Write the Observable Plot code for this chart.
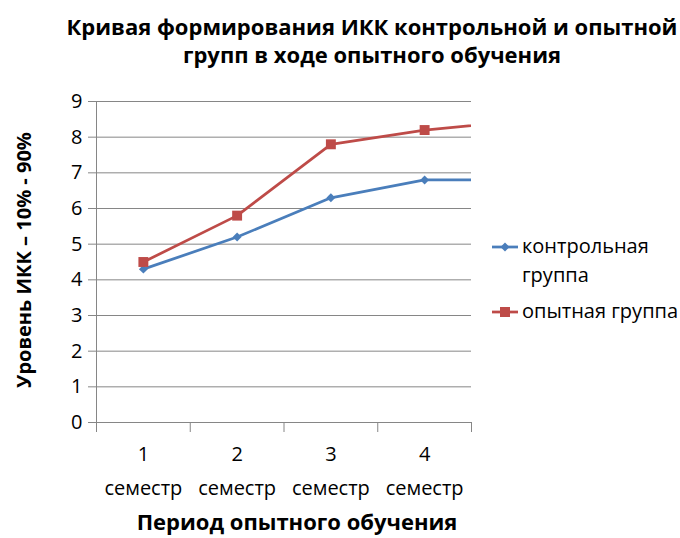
<!DOCTYPE html>
<html>
<head>
<meta charset="utf-8">
<script src="https://cdn.jsdelivr.net/npm/d3@7"></script>
<script src="https://cdn.jsdelivr.net/npm/@observablehq/plot@0.6"></script>
<style>
  body { margin: 0; background: #fff; }
  #wrap { position: relative; width: 680px; height: 538px; font-family: "Open Sans", sans-serif; color: #000; overflow: hidden; background: #fff; }
  #title { position: absolute; left: 372px; top: 12px; transform: translateX(-50%); white-space: nowrap; text-align: center; font-weight: bold; font-size: 22px; line-height: 28px; }
  #chart { position: absolute; left: 0; top: 70px; }
  #ylabel { position: absolute; left: 24px; top: 260px; transform: translate(-50%, -50%) rotate(-90deg); white-space: nowrap; font-weight: bold; font-size: 20px; line-height: 1; }
  #xlabel { position: absolute; left: 297px; top: 521px; transform: translate(-50%, -50%); white-space: nowrap; font-weight: bold; font-size: 22px; line-height: 1; }
  .leg { position: absolute; left: 492px; font-size: 20px; line-height: 29px; white-space: nowrap; }
</style>
</head>
<body>
<div id="wrap">
  <div id="title"></div>
  <div id="chart"></div>
  <div id="ylabel"></div>
  <div id="xlabel"></div>
  <div id="legend"></div>
</div>
<script>
// ---- data ----
const titleLines = ["Кривая формирования ИКК контрольной и опытной", "групп в ходе опытного обучения"];
const yAxisTitle = "Уровень ИКК – 10% - 90%";
const xAxisTitle = "Период опытного обучения";
const semesters = [1, 2, 3, 4];
const semesterLabels = ["1\nсеместр", "2\nсеместр", "3\nсеместр", "4\nсеместр"];
// a fifth point lies beyond the visible range (lines run on to the plot edge)
const xPositions = [1, 2, 3, 4, 5];
const controlValues = [4.3, 5.2, 6.3, 6.8, 6.8];
const experimentalValues = [4.5, 5.8, 7.8, 8.2, 8.45];
const seriesNames = ["контрольная группа", "опытная группа"];
const seriesLegendLines = [["контрольная", "группа"], ["опытная группа"]];
const seriesColors = ["#4A7EBB", "#BE4B48"];
const seriesSymbols = ["diamond2", "square"];
const yTicks = [0, 1, 2, 3, 4, 5, 6, 7, 8, 9];
const categoryBounds = [0.5, 1.5, 2.5, 3.5, 4.5];

// ---- table ----
const rows = [];
[controlValues, experimentalValues].forEach((vals, s) => {
  vals.forEach((v, i) => rows.push({series: seriesNames[s], x: xPositions[i], y: v}));
});
const visible = rows.filter(d => semesters.includes(d.x));

document.getElementById("title").innerHTML = titleLines.join("<br>");
document.getElementById("ylabel").textContent = yAxisTitle;
document.getElementById("xlabel").textContent = xAxisTitle;

const grid = "#868686";
const chart = Plot.plot({
  width: 680,
  height: 468,
  marginTop: 31,
  marginBottom: 116,
  marginLeft: 96,
  marginRight: 209,
  style: {fontFamily: "'Open Sans', sans-serif", fontSize: "20px", color: "#000", background: "#fff", overflow: "visible"},
  x: {domain: [0.5, 4.5]},
  y: {domain: [0, 9]},
  color: {domain: seriesNames, range: seriesColors},
  symbol: {domain: seriesNames, range: seriesSymbols},
  marks: [
    Plot.gridY(yTicks, {stroke: grid, strokeOpacity: 1, strokeWidth: 1}),
    Plot.axisY(yTicks, {tickSize: 8, tickPadding: 6, stroke: grid, strokeOpacity: 1, fontSize: 20, label: null, tickFormat: d => String(d)}),
    Plot.ruleX([0.5], {stroke: grid, strokeWidth: 1}),
    Plot.axisX(categoryBounds, {tickSize: 10, tickPadding: 0, stroke: grid, strokeOpacity: 1, tickFormat: () => "", label: null}),
    Plot.text(semesters, {x: d => d, text: (d, i) => semesterLabels[i], frameAnchor: "bottom", lineAnchor: "top", dy: 14, lineHeight: 1.7, fontSize: 20, fill: "#000"}),
    Plot.line(rows, {x: "x", y: "y", z: "series", stroke: "series", strokeWidth: 2.75, clip: true}),
    Plot.dot(visible.filter(d => d.series === seriesNames[0]), {x: "x", y: "y", fill: "series", symbol: "series", stroke: "none", r: 4}),
    Plot.dot(visible.filter(d => d.series === seriesNames[1]), {x: "x", y: "y", fill: "series", symbol: "series", stroke: "none", r: 5.6})
  ]
});
document.getElementById("chart").appendChild(chart);

// ---- legend ----
const legend = document.getElementById("legend");
const legendTops = [231, 296];
seriesNames.forEach((name, s) => {
  const div = document.createElement("div");
  div.className = "leg";
  div.style.top = legendTops[s] + "px";
  const c = seriesColors[s];
  const sym = s === 0
    ? `<path d="M13,2.5 L17.5,7 L13,11.5 L8.5,7 Z" fill="${c}"/>`
    : `<rect x="8" y="2" width="10" height="10" fill="${c}"/>`;
  const swatch = `<svg width="26" height="14" style="position:absolute;left:0;top:8.5px"><line x1="0" x2="26" y1="7" y2="7" stroke="${c}" stroke-width="2.75"/>${sym}</svg>`;
  div.innerHTML = swatch + `<div style="margin-left:30px">${seriesLegendLines[s].join("<br>")}</div>`;
  legend.appendChild(div);
});
</script>
</body>
</html>
